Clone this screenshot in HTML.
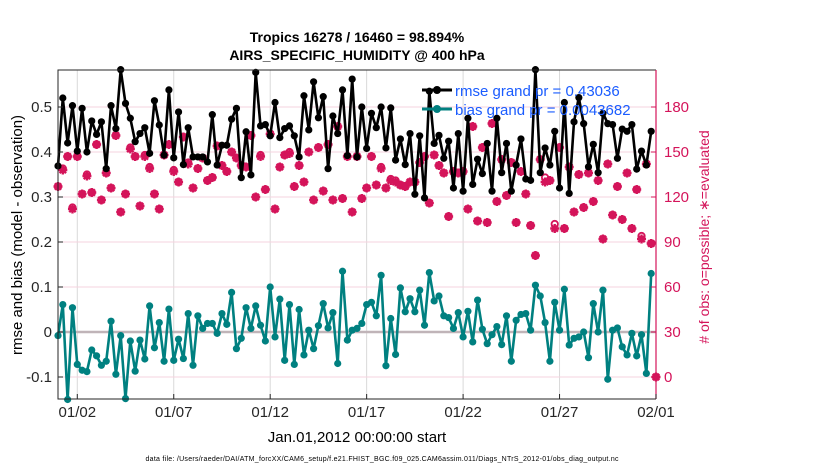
<!DOCTYPE html>
<html><head><meta charset="utf-8"><style>
html,body{margin:0;padding:0;background:#fff;}
svg{display:block;font-family:"Liberation Sans",sans-serif;}
</style></head><body>
<svg id="chart" width="830" height="470" viewBox="0 0 830 470">
<text x="357" y="42" text-anchor="middle" font-size="14" font-weight="bold">Tropics 16278 / 16460 = 98.894%</text>
<text x="357" y="60" text-anchor="middle" font-size="14" font-weight="bold">AIRS_SPECIFIC_HUMIDITY @ 400 hPa</text>
<g id="grid"></g>
<g id="marks"></g>
<g id="axes"></g>
<text transform="translate(22,235) rotate(-90)" text-anchor="middle" font-size="15">rmse and bias (model - observation)</text>
<text transform="translate(709,237) rotate(-90)" text-anchor="middle" font-size="14" fill="#d4145a"># of obs: o=possible; ∗=evaluated</text>
<text x="357" y="442" text-anchor="middle" font-size="15">Jan.01,2012 00:00:00 start</text>
<text x="382" y="461" text-anchor="middle" font-size="7" textLength="473">data file: /Users/raeder/DAI/ATM_forcXX/CAM6_setup/f.e21.FHIST_BGC.f09_025.CAM6assim.011/Diags_NTrS_2012-01/obs_diag_output.nc</text>
<g>
<line x1="422" y1="90" x2="452" y2="90" stroke="#000" stroke-width="3"/>
<circle cx="437" cy="90" r="4" fill="#000"/>
<text x="455" y="96" font-size="15" fill="#1a5cff">rmse grand pr = 0.43036</text>
<line x1="422" y1="109" x2="452" y2="109" stroke="#008080" stroke-width="3"/>
<circle cx="437" cy="109" r="4" fill="#008080"/>
<text x="455" y="115" font-size="15" fill="#1a5cff">bias grand pr = 0.0043682</text>
</g>
</svg>
<script>
const xTickLabels=["01/02","01/07","01/12","01/17","01/22","01/27","02/01"];
const xTickDays=[1,6,11,16,21,26,31];
const yLeftTicks=[-0.1,0,0.1,0.2,0.3,0.4,0.5];
const yLeftLabels=["-0.1","0","0.1","0.2","0.3","0.4","0.5"];
const yRightTicks=[0,30,60,90,120,150,180];
const rmse=[0.369,0.520,0.420,0.503,0.402,0.497,0.400,0.469,0.439,0.467,0.363,0.503,0.452,0.583,0.508,0.475,0.423,0.441,0.454,0.397,0.514,0.460,0.393,0.538,0.387,0.489,0.372,0.454,0.389,0.389,0.389,0.378,
0.483,0.371,0.415,0.415,0.473,0.497,0.343,0.445,0.349,0.577,0.458,0.461,0.436,0.510,0.432,0.452,0.458,0.436,0.389,0.525,0.449,0.556,0.476,0.523,0.363,0.480,0.441,0.538,0.392,0.562,0.389,
0.500,0.408,0.486,0.454,0.500,0.409,0.498,0.382,0.429,0.372,0.441,0.306,0.436,0.298,0.535,0.419,0.437,0.386,0.424,0.320,0.441,0.313,0.475,0.328,0.384,0.352,0.419,0.313,0.475,0.354,0.419,
0.313,0.371,0.429,0.340,0.337,0.583,0.354,0.409,0.371,0.446,0.320,0.510,0.308,0.467,0.521,0.463,0.367,0.417,0.354,0.486,0.463,0.461,0.386,0.451,0.446,0.461,0.362,0.402,0.371,0.446];
const bias=[-0.008,0.061,-0.150,0.054,-0.072,-0.085,-0.088,-0.040,-0.053,-0.074,-0.065,0.024,-0.094,-0.008,-0.148,-0.020,-0.087,-0.018,-0.060,0.058,-0.035,0.021,-0.065,0.051,-0.063,-0.016,-0.059,0.041,-0.074,0.036,0.008,0.019,
0.019,-0.003,0.041,0.017,0.088,-0.037,-0.014,0.054,0.008,0.058,0.015,-0.020,0.100,-0.011,0.073,-0.063,0.061,-0.072,0.050,-0.051,0.004,-0.037,0.014,0.063,0.009,0.043,-0.070,0.135,-0.018,0.004,0.008,
0.019,0.061,0.066,0.036,0.126,-0.075,0.030,-0.050,0.098,0.045,0.074,0.045,0.093,0.015,0.132,0.069,0.080,0.036,0.032,0.008,0.043,-0.011,0.046,-0.022,0.071,0.006,-0.026,-0.006,0.012,-0.028,0.036,
-0.065,0.026,0.039,0.041,0.004,0.104,0.080,0.021,-0.065,0.066,0.004,0.095,-0.029,-0.014,-0.011,0.000,-0.057,0.063,0.000,0.093,-0.105,0.004,0.009,-0.033,-0.051,-0.003,-0.053,-0.006,-0.092,0.130];
const nEvaluated=[127,138,147,112,147,122,134,123,155,118,136,126,161,110,122,152,147,114,147,139,122,112,148,155,137,130,160,142,126,139,146,131,
133,154,141,137,150,146,141,140,161,120,147,125,162,112,140,148,149,127,141,130,150,118,153,124,155,118,167,119,147,110,147,
119,126,147,128,139,126,131,130,128,127,130,130,143,147,116,148,141,136,107,137,136,137,112,167,104,153,103,169,117,145,121,
143,103,137,122,101,81,145,130,131,99,153,99,140,110,135,113,136,117,131,92,142,108,127,105,136,99,125,92,142,89,0];
const nPossible=[127,139,147,113,147,122,135,123,155,118,136,126,161,110,122,153,147,114,148,140,122,112,148,155,138,130,160,143,126,139,146,131,
133,154,141,137,150,146,141,140,161,120,148,125,162,112,140,148,150,127,141,130,150,118,153,124,155,118,167,119,147,110,147,
119,126,147,128,140,126,132,131,128,127,130,130,143,147,116,148,141,136,107,137,136,137,112,167,104,153,103,169,117,145,121,
143,103,137,122,101,81,145,133,131,102,153,99,140,110,135,113,136,117,131,92,142,108,127,105,136,99,125,94,142,89,0];
const NS="http://www.w3.org/2000/svg";
const L=58,R=656,T=70,B=399;
function xs(d){return L+(d-0)*(R-L)/31;}
function yl(v){return 332-v*450;}
function yr(v){return yl((v-30)/300);}
function dayOf(i){return i*0.25;}
function mk(tag,attrs,parent){const e=document.createElementNS(NS,tag);for(const k in attrs)e.setAttribute(k,attrs[k]);parent.appendChild(e);return e;}
const grid=document.getElementById('grid'),marks=document.getElementById('marks'),axes=document.getElementById('axes');
xTickDays.forEach((d,i)=>{
 const g=mk('line',{x1:xs(d),x2:xs(d),y1:T,y2:B,stroke:'#d9d9d9','stroke-width':1},grid);
 
 
});
yRightTicks.forEach(v=>{
 const g=mk('line',{x1:L,x2:R,y1:yr(v),y2:yr(v),stroke:'#f6d3df','stroke-width':1},grid);
 
 
});
const zl=mk('line',{x1:L,x2:R,y1:yl(0),y2:yl(0),stroke:'#c0b4b8','stroke-width':2.5},grid);


nEvaluated.forEach((v,i)=>{
 const x=xs(dayOf(i));
 const p=nPossible[i];
 const c=mk('circle',{cx:x,cy:yr(p),r:3.2,fill:'#fff',stroke:'#d4145a','stroke-width':1.8},marks);
 
 
 const y=yr(v);
 const s=mk('path',{d:`M${x-4.5} ${y}H${x+4.5}M${x} ${y-4.5}V${y+4.5}M${x-3.2} ${y-3.2}L${x+3.2} ${y+3.2}M${x-3.2} ${y+3.2}L${x+3.2} ${y-3.2}`,stroke:'#d4145a','stroke-width':2.4},marks);
 
 
 const d=mk('circle',{cx:x,cy:y,r:2.8,fill:'#d4145a'},marks);
 
 
});
function series(arr,color,name){
 const pts=arr.map((v,i)=>xs(dayOf(i)).toFixed(1)+','+yl(v).toFixed(1)).join(' ');
 const pl=mk('polyline',{points:pts,fill:'none',stroke:color,'stroke-width':2.6,'stroke-linejoin':'round'},marks);
 
 
 arr.forEach((v,i)=>{
  const c=mk('circle',{cx:xs(dayOf(i)),cy:yl(v),r:3.6,fill:color},marks);
  
  
 });
}
series(bias,'#008080','bias');
series(rmse,'#000000','rmse');
const fr=mk('path',{d:`M${R} ${T}H${L}V${B}H${R}`,fill:'none',stroke:'#262626','stroke-width':1},axes);


const rs=mk('line',{x1:R,x2:R,y1:T,y2:B,stroke:'#d4145a','stroke-width':1.2},axes);


yLeftTicks.forEach((v,i)=>{
 const t=mk('line',{x1:L,x2:L+5,y1:yl(v),y2:yl(v),stroke:'#262626'},axes);
 
 
 const tx=mk('text',{x:L-6,y:yl(v)+5,'text-anchor':'end','font-size':15,fill:'#262626'},axes);
 tx.textContent=yLeftLabels[i];
 
 
});
yRightTicks.forEach(v=>{
 const t=mk('line',{x1:R-5,x2:R,y1:yr(v),y2:yr(v),stroke:'#d4145a'},axes);
 
 
 const tx=mk('text',{x:R+8,y:yr(v)+5,'font-size':15,fill:'#d4145a'},axes);
 tx.textContent=String(v);
 
 
});
xTickDays.forEach((d,i)=>{
 const t=mk('line',{x1:xs(d),x2:xs(d),y1:B,y2:B-5,stroke:'#262626'},axes);
 
 
 const tx=mk('text',{x:xs(d),y:B+18,'text-anchor':'middle','font-size':15,fill:'#262626'},axes);
 tx.textContent=xTickLabels[i];
 
 
});
</script>
</body></html>
